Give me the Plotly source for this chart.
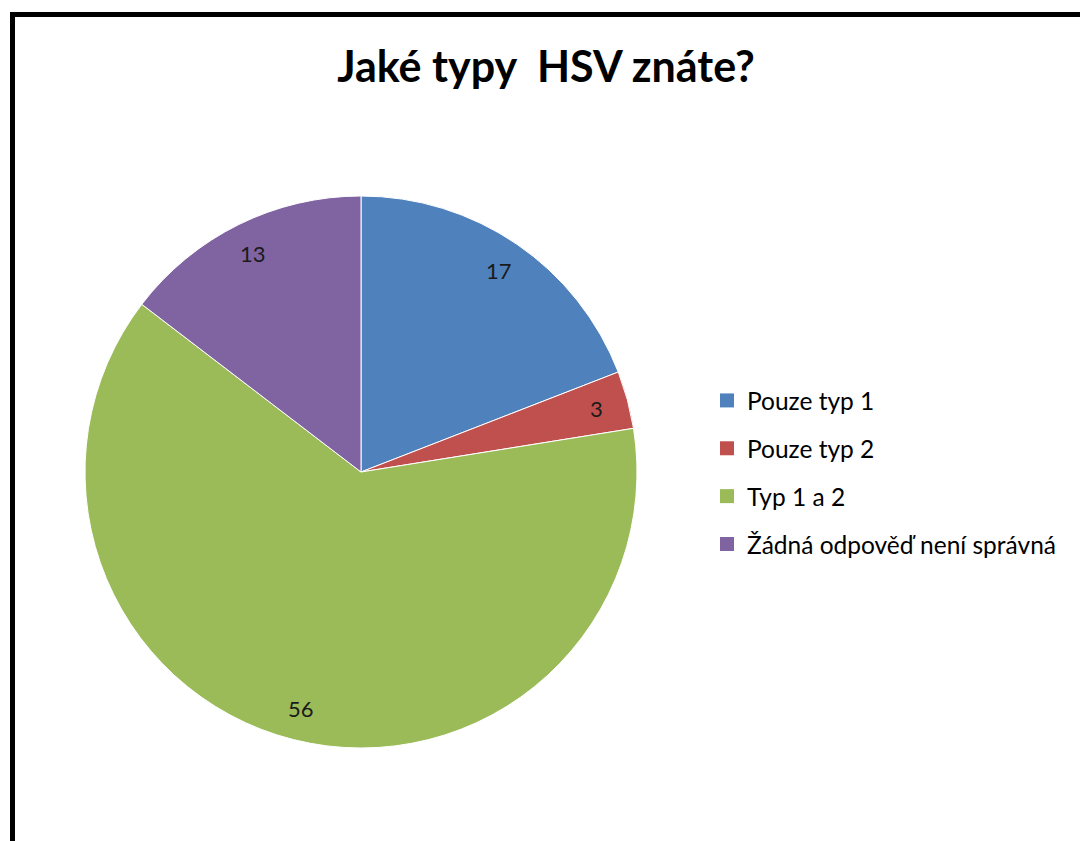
import math
import plotly.graph_objects as go

categories = ["Pouze typ 1", "Pouze typ 2", "Typ 1 a 2", "Žádná odpověď není správná"]
values = [17, 3, 56, 13]
colors = ["#4F81BD", "#C0504D", "#9BBB59", "#8064A2"]
title_text = "Jaké typy\u00a0\u00a0HSV znáte?"

W, H = 1080, 841
cx, cy, r = 361, 472, 276
label_r = 0.885 * r

fig = go.Figure()
fig.add_trace(go.Pie(
    labels=categories, values=values, sort=False, direction="clockwise", rotation=0,
    marker=dict(colors=colors, line=dict(color="white", width=1)),
    textinfo="none",
    showlegend=False, hoverinfo="label+value",
    domain=dict(x=[(cx - r) / W, (cx + r) / W], y=[1 - (cy + r) / H, 1 - (cy - r) / H]),
))
for name, col in zip(categories, colors):
    fig.add_trace(go.Scatter(
        x=[None], y=[None], mode="markers", name=name, legendgroup=name,
        marker=dict(symbol="square", size=14, color=col, line=dict(width=0)),
    ))

# value labels placed at the mid-angle of each slice (computed from the data)
total = sum(values)
annotations = []
cum = 0
for v in values:
    mid = (cum + v / 2) / total * 2 * math.pi
    cum += v
    px = cx + label_r * math.sin(mid)
    py = cy - label_r * math.cos(mid)
    annotations.append(dict(x=px / W, y=1 - py / H, xref="paper", yref="paper",
                            text=str(v), showarrow=False, xanchor="center", yanchor="middle",
                            font=dict(family="Lato", size=22, color="#1a1a1a")))

fig.update_layout(
    width=W, height=H, margin=dict(l=0, r=0, t=0, b=0),
    paper_bgcolor="white", plot_bgcolor="white",
    xaxis=dict(visible=False), yaxis=dict(visible=False),
    title=dict(text=title_text, x=546 / W, xanchor="center", y=1 - 67 / H, yanchor="middle",
               font=dict(family="Lato", size=43, color="black", weight="bold")),
    legend=dict(x=707 / W, xanchor="left", y=1 - 378 / H, yanchor="top",
                font=dict(family="Lato", size=24.5, color="black"),
                tracegroupgap=13, itemwidth=30, bgcolor="rgba(0,0,0,0)"),
    annotations=annotations,
    shapes=[dict(type="rect", xref="paper", yref="paper",
                 x0=12.5 / W, x1=1.05, y0=-0.05, y1=1 - 14.5 / H,
                 line=dict(color="black", width=5), layer="above")],
)
fig.write_html("out.html")
